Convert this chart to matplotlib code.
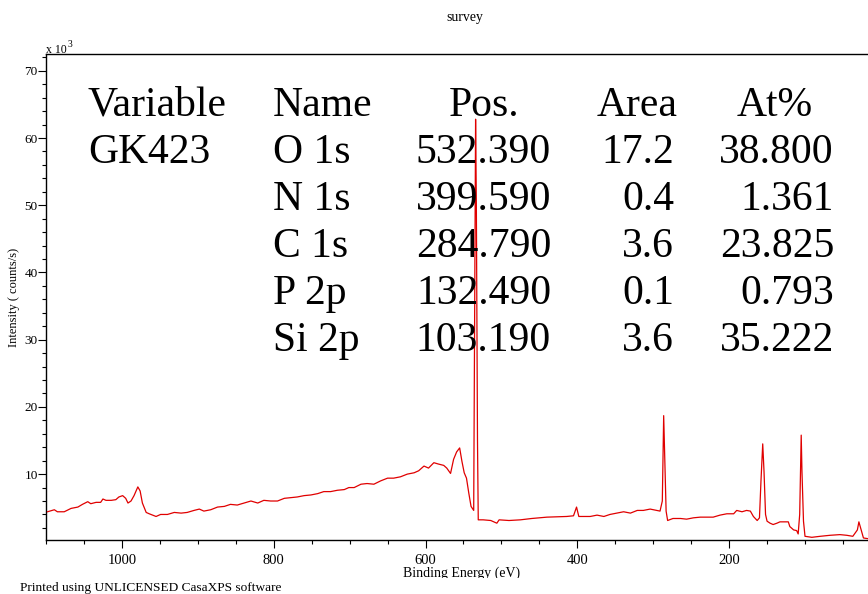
import numpy as np
import matplotlib.pyplot as plt
from matplotlib.ticker import MultipleLocator
from matplotlib.transforms import Bbox

plt.rcParams['font.family'] = ['Liberation Serif', 'DejaVu Serif']

# survey spectrum, binding energy (eV) vs intensity (x 10^3 counts/s)
binding_energy = [1098, 1089, 1085, 1076, 1067, 1058, 1052, 1045, 1041, 1034, 1028, 1025, 1021,
                  1014, 1008, 1004, 999, 995, 992, 988, 984, 979, 976, 973, 968, 964, 955, 949,
                  940, 931, 922, 914, 905, 898, 892, 883, 874, 865, 857, 848, 839, 830, 821, 813,
                  804, 795, 786, 778, 769, 760, 751, 742, 734, 725, 716, 707, 701, 694, 685, 677,
                  668, 659, 650, 642, 633, 624, 615, 609, 602, 596, 589, 583, 576, 572, 567, 563,
                  559, 555, 552, 549, 546, 543, 540, 536.5, 535, 534, 533, 531.5, 530.5, 524, 514,
                  506, 503, 490, 475, 460, 440, 414, 405, 401, 398, 383, 374, 365, 357, 348, 339,
                  330, 321, 313, 304, 295, 291, 288, 286.2, 285, 283, 281, 274, 264, 256, 247, 238,
                  229, 221, 212, 203, 194, 190, 183, 177, 172, 168, 163, 160, 158, 155.7, 154, 152,
                  150, 146, 142, 137, 133, 122, 120, 115, 111, 109, 107, 105, 104, 102, 100, 91,
                  80, 67, 54, 45, 37, 31, 29, 26, 23, 17]
intensity = [4.4, 4.7, 4.4, 4.4, 4.9, 5.1, 5.5, 5.9, 5.6, 5.8, 5.8, 6.3, 6.1,
             6.1, 6.2, 6.6, 6.8, 6.4, 5.7, 6.0, 6.8, 8.1, 7.5, 5.7, 4.3, 4.1, 3.7, 4.0,
             4.0, 4.3, 4.2, 4.3, 4.6, 4.8, 4.5, 4.7, 5.1, 5.2, 5.5, 5.4, 5.7, 6.0, 5.7, 6.1,
             6.0, 6.0, 6.4, 6.5, 6.6, 6.8, 6.9, 7.1, 7.4, 7.4, 7.6, 7.7, 8.0, 8.0, 8.5, 8.6,
             8.5, 9.0, 9.4, 9.4, 9.6, 10.0, 10.2, 10.5, 11.2, 10.9, 11.7, 11.5, 11.3, 10.9, 10.1, 12.2,
             13.3, 13.9, 11.9, 10.2, 9.4, 7.2, 5.2, 4.6, 40.0, 62.8, 50.0, 15.0, 3.2, 3.2, 3.1,
             2.7, 3.2, 3.1, 3.2, 3.4, 3.6, 3.7, 3.8, 5.1, 3.7, 3.7, 3.9, 3.7, 4.0, 4.2, 4.4,
             4.2, 4.6, 4.6, 4.8, 4.6, 4.5, 6.0, 18.7, 13.4, 4.5, 3.1, 3.4, 3.4, 3.3, 3.5, 3.6,
             3.6, 3.6, 3.9, 4.1, 4.1, 4.6, 4.4, 4.6, 4.5, 3.7, 3.1, 3.5, 9.0, 14.5, 10.4, 4.0,
             3.0, 2.7, 2.5, 2.7, 2.9, 2.9, 2.2, 1.7, 1.6, 1.1, 4.0, 15.8, 10.4, 3.0, 0.75, 0.6,
             0.75, 0.9, 1.0, 0.9, 0.75, 1.7, 2.9, 1.7, 0.5, 0.4]

# quantification table printed on the plot
table_header = ['Variable', 'Name', 'Pos.', 'Area', 'At%']
sample_name = 'GK423'
peak_names = ['O 1s', 'N 1s', 'C 1s', 'P 2p', 'Si 2p']
peak_pos = ['532.390', '399.590', '284.790', '132.490', '103.190']
peak_area = ['17.2', '0.4', '3.6', '0.1', '3.6']
atomic_pct = ['38.800', '1.361', '23.825', '0.793', '35.222']

W, H = 868, 594
fig = plt.figure(figsize=(W / 100, H / 100), dpi=100)
ax = fig.add_axes([46 / W, 1 - 540 / H, (W - 46) / W, (540 - 54) / H])

ax.plot(binding_energy, intensity, color='#e00000', lw=0.9, zorder=4)
ax.set_xlim(1100, 17)
ax.set_ylim(0.2, 72.5)

ax.spines['right'].set_visible(False)
for s in ['left', 'bottom', 'top']:
    ax.spines[s].set_linewidth(1.0)
ax.xaxis.set_major_locator(MultipleLocator(200))
ax.xaxis.set_minor_locator(MultipleLocator(50))
ax.yaxis.set_major_locator(MultipleLocator(10))
ax.yaxis.set_minor_locator(MultipleLocator(2))
ax.tick_params(which='major', direction='out', length=6, width=0.8, pad=1)
ax.tick_params(which='minor', direction='out', length=3, width=0.8)
ax.tick_params(axis='x', labelsize=10.5, pad=4)
ax.tick_params(axis='y', labelsize=9.5, pad=0)

fig.text(465 / W, 1 - 18 / H, 'survey', ha='center', va='center', fontsize=10)
fig.text(46 / W, 1 - 53 / H, 'x 10', ha='left', va='baseline', fontsize=8.5)
fig.text(68 / W, 1 - 47 / H, '3', ha='left', va='baseline', fontsize=7)
fig.text(14 / W, 1 - 297 / H, 'Intensity ( counts/s)', rotation=90,
         ha='center', va='center', fontsize=9)
xl = fig.text(462 / W, 1 - 577 / H, 'Binding Energy (eV)', ha='center', va='baseline',
              fontsize=10)
xl.set_clip_box(Bbox([[0, H - 578], [W, H]]))
xl.set_clip_on(True)
fig.text(20 / W, 1 - 591 / H, 'Printed using UNLICENSED CasaXPS software',
         ha='left', va='baseline', fontsize=9.6)

# table
fs = 30
y0, dy = 116, 47
def put(x, row, s, ha):
    fig.text(x / W, 1 - (y0 + row * dy) / H, s, ha=ha, va='baseline', fontsize=fs, zorder=3)

put(88, 0, table_header[0], 'left')
put(273, 0, table_header[1], 'left')
put(484, 0, table_header[2], 'center')
put(637, 0, table_header[3], 'center')
put(775, 0, table_header[4], 'center')
put(88, 1, sample_name, 'left')
for i in range(len(peak_names)):
    put(273, i + 1, peak_names[i], 'left')
    put(551, i + 1, peak_pos[i], 'right')
    put(674, i + 1, peak_area[i], 'right')
    put(834, i + 1, atomic_pct[i], 'right')

fig.savefig('out.png', dpi=100)
